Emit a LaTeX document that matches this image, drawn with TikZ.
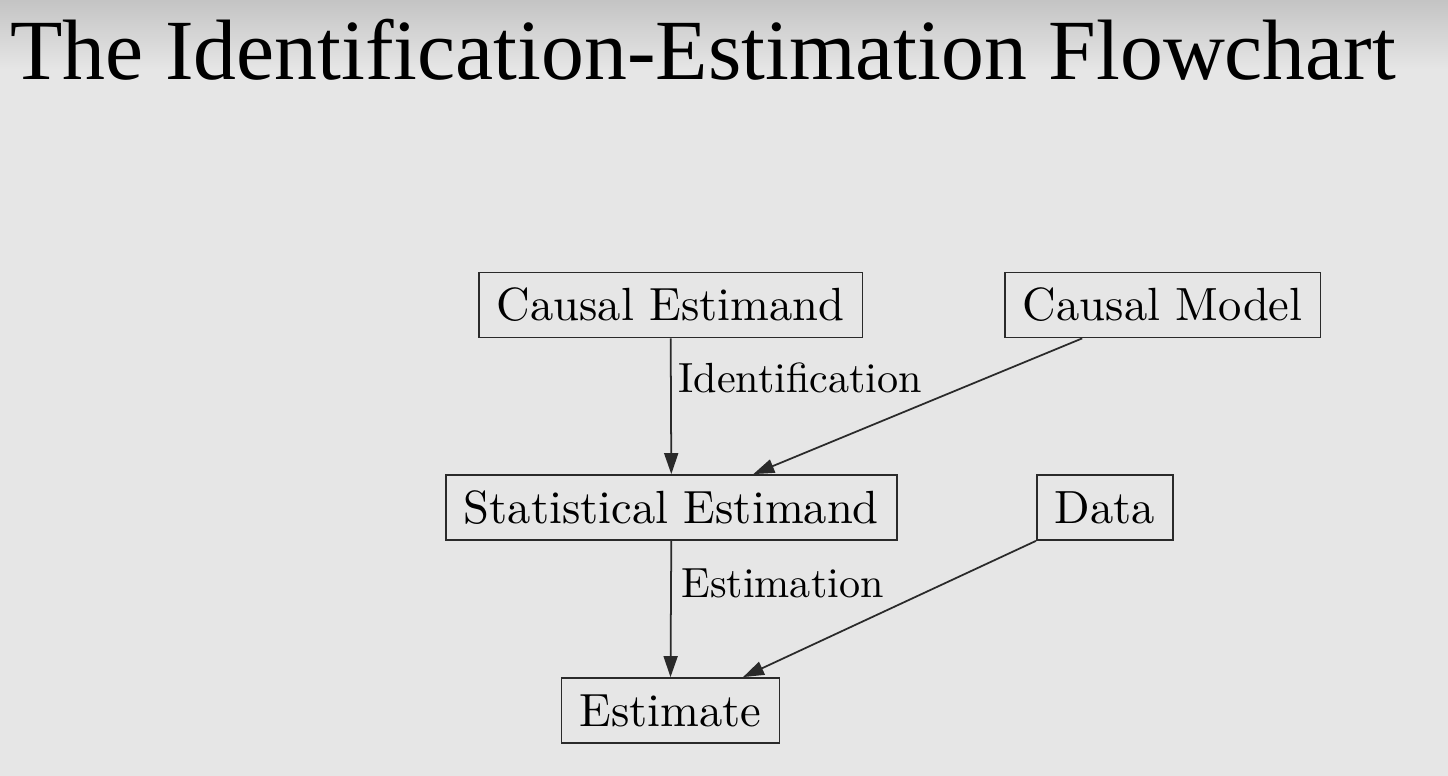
\documentclass[tikz,border=0pt]{standalone}
\usepackage{fontspec}
\newfontfamily\titlefont{Liberation Serif}
\newfontfamily\boxfont[Extension=.otf]{lmroman10-regular}
\usepackage{xcolor}
\usetikzlibrary{arrows.meta, positioning}

\definecolor{slidebg}{HTML}{E6E6E6}
\definecolor{slidetop}{HTML}{C4C4C4}
\definecolor{boxline}{HTML}{2A2A2A}

\begin{document}
\begin{tikzpicture}[x=0.02cm, y=-0.02cm,
    stage/.style={draw=boxline, line width=1pt, inner xsep=0.36cm, minimum height=1.3cm, font=\boxfont\fontsize{26.5}{30}\selectfont},
    flow/.style={draw=boxline, line width=1pt, -{Triangle[length=0.42cm, width=0.28cm]}},
    lbl/.style={anchor=base west, inner sep=0pt, font=\boxfont\fontsize{24}{28}\selectfont}]
    % slide background
    \fill[slidebg] (0,0) rectangle (1448,776);
    \shade[top color=slidetop, bottom color=slidebg] (0,0) rectangle (1448,70);
    \useasboundingbox (0,0) rectangle (1448,776);

    \node[anchor=base west, inner sep=0pt, font=\titlefont\fontsize{48.8}{56}\selectfont] (title) at (10,80) {The Identification-Estimation Flowchart};

    % boxes
    \node[stage] (causalest) at (670.7,305) {Causal Estimand};
    \node[stage] (causalmodel) at (1162.7,305) {Causal Model};
    \node[stage] (statest) at (671.3,507.5) {Statistical Estimand};
    \node[stage] (data) at (1105,507.5) {Data};
    \node[stage] (estimate) at (670.5,710.5) {Estimate};

    % arrows
    \draw[flow] (causalest.south) -- (statest.north);
    \draw[flow] ([xshift=-1.61cm]causalmodel.south) -- ([xshift=1.64cm]statest.north);
    \draw[flow] (statest.south) -- (estimate.north);
    \draw[flow] (data.south west) -- ([xshift=1.45cm]estimate.north);

    % arrow labels
    \node[lbl] (identlbl) at (678,393) {Identification};
    \node[lbl] (estimlbl) at (681,598) {Estimation};
\end{tikzpicture}
\end{document}
